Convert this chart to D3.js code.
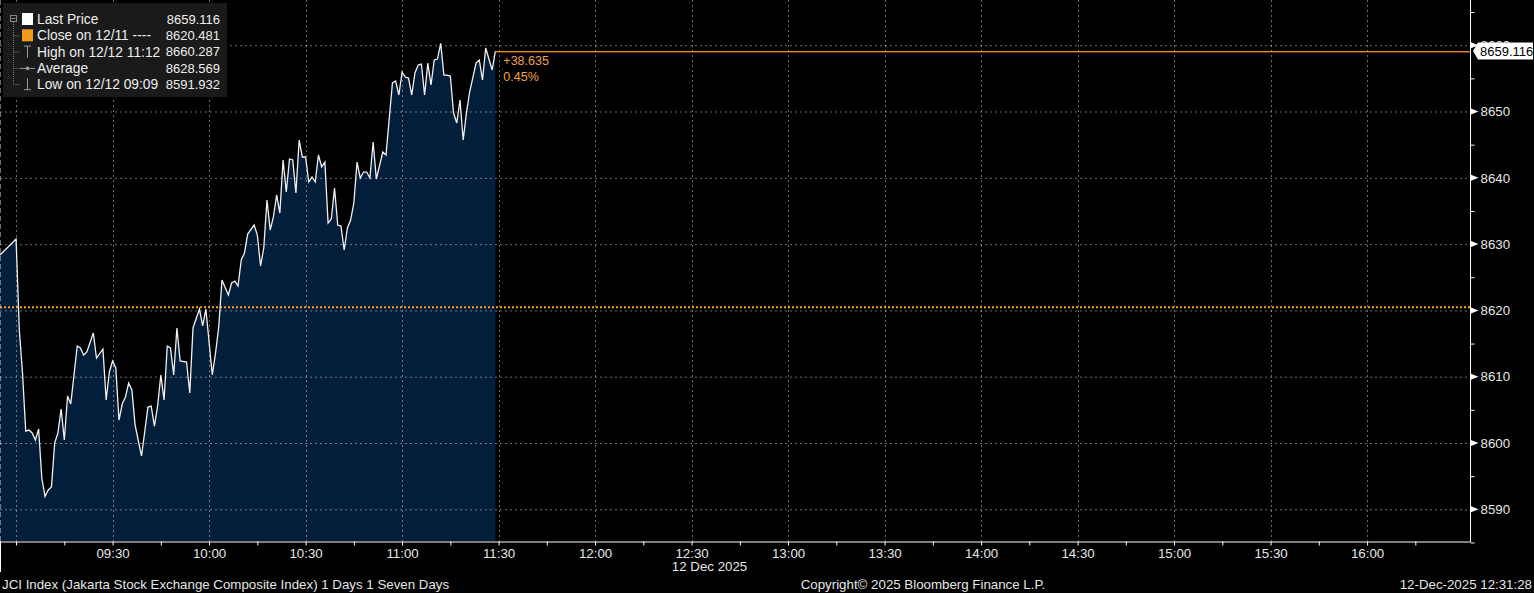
<!DOCTYPE html>
<html>
<head>
<meta charset="utf-8">
<script src="https://cdn.jsdelivr.net/npm/d3@7"></script>
<style>
  body { margin: 0; background: #000; }
  svg { display: block; font-family: "Liberation Sans", Arial, sans-serif; }
</style>
</head>
<body>
<svg id="chart" width="1534" height="593"></svg>
<script>
// JCI intraday, 1-minute points
const times = ["08:55","09:00","09:01","09:02","09:03","09:04","09:05","09:06","09:07","09:08","09:09","09:10","09:11","09:12","09:13","09:14","09:15","09:16","09:17","09:19","09:20","09:21","09:22","09:24","09:25","09:27","09:28","09:29","09:30","09:31","09:32","09:33","09:34","09:35","09:36","09:37","09:39","09:41","09:42","09:43","09:44","09:45","09:46","09:47","09:48","09:49","09:50","09:51","09:53","09:54","09:55","09:57","09:58","09:59","10:01","10:02","10:03","10:04","10:06","10:07","10:08","10:09","10:10","10:11","10:12","10:14","10:15","10:16","10:17","10:18","10:19","10:20","10:21","10:22","10:23","10:24","10:25","10:26","10:27","10:28","10:29","10:30","10:31","10:32","10:33","10:34","10:35","10:36","10:37","10:38","10:39","10:40","10:41","10:42","10:43","10:44","10:45","10:46","10:47","10:48","10:49","10:50","10:51","10:52","10:54","10:55","10:57","10:58","10:59","11:00","11:01","11:02","11:03","11:04","11:05","11:06","11:07","11:08","11:09","11:10","11:11","11:12","11:13","11:14","11:15","11:16","11:17","11:18","11:19","11:20","11:21","11:23","11:24","11:25","11:26","11:28","11:29"];
const prices = [8628.36,8630.77,8617.04,8610.56,8601.81,8601.96,8601.51,8600.45,8602.11,8594.72,8591.93,8592.91,8593.36,8600.00,8601.51,8605.13,8600.45,8607.09,8605.88,8614.63,8614.33,8613.27,8613.73,8616.59,8612.82,8614.18,8606.49,8610.71,8612.37,8611.31,8603.47,8605.88,8606.94,8609.05,8607.99,8602.71,8598.04,8605.43,8605.58,8602.56,8605.58,8610.26,8606.49,8614.63,8614.33,8610.26,8617.35,8612.37,8612.22,8607.54,8617.35,8620.21,8617.65,8620.21,8610.26,8613.57,8617.50,8624.59,8622.32,8624.13,8624.43,8623.68,8627.60,8628.66,8631.52,8632.88,8631.37,8626.70,8629.41,8636.65,8632.13,8634.09,8637.41,8634.69,8642.68,8637.86,8642.84,8642.69,8637.71,8645.70,8643.14,8643.14,8639.37,8640.12,8639.37,8643.44,8641.63,8642.38,8633.18,8633.79,8638.46,8632.88,8632.73,8629.11,8632.43,8633.63,8636.20,8642.38,8639.97,8640.87,8640.87,8639.97,8645.40,8639.82,8643.89,8643.44,8654.30,8654.60,8652.49,8655.96,8655.20,8655.05,8652.49,8655.81,8657.01,8657.16,8652.49,8657.31,8654.00,8657.77,8657.92,8660.29,8655.50,8655.50,8655.35,8649.77,8648.27,8651.73,8645.70,8649.77,8652.94,8657.31,8657.77,8654.75,8659.58,8656.26,8659.12];

const yTicks = [8590, 8600, 8610, 8620, 8630, 8640, 8650, 8660];
const yMinorTicks = [8585, 8595, 8605, 8615, 8625, 8635, 8645, 8655, 8665];
const xTickLabels = ["09:30","10:00","10:30","11:00","11:30","12:00","12:30","13:00","13:30","14:00","14:30","15:00","15:30","16:00"];
const xGridTimes = ["09:00","09:30","10:00","10:30","11:00","11:30","12:00","12:30","13:00","13:30","14:00","14:30","15:00","15:30","16:00"];
const xDomain = ["08:55", "16:32"];
const yDomain = [8585.22, 8666.82];

const lastPrice = 8659.116;
const prevClose = 8620.481;
const changeText = ["+38.635", "0.45%"];
const legendLabels = ["Last Price", "Close on 12/11 ----", "High on 12/12 11:12", "Average", "Low on 12/12 09:09"];
const legendValues = ["8659.116", "8620.481", "8660.287", "8628.569", "8591.932"];
const dateLabel = "12 Dec 2025";
const footerLeft = "JCI Index (Jakarta Stock Exchange Composite Index) 1 Days 1 Seven Days";
const footerMid = "Copyright\u00a9 2025 Bloomberg Finance L.P.";
const footerRight = "12-Dec-2025 12:31:28";

const W = 1470, H = 541;
const parse = d3.timeParse("%H:%M");
const data = times.map((t, i) => ({ t: parse(t), v: prices[i] }));

const svg = d3.select('#chart');
svg.append('rect').attr('width', 1534).attr('height', 593).attr('fill', '#000');

const x = d3.scaleTime().domain(xDomain.map(parse)).range([0, W]);
const y = d3.scaleLinear().domain(yDomain).range([H, 0]);

let plot = svg.append('g');

// area under the price
plot.append('path')
  .datum(data)
  .attr('d', d3.area().x(d => x(d.t)).y0(H).y1(d => y(d.v)))
  .attr('fill', '#031e3b');

// grid
plot.selectAll('.hgrid').data(yTicks)
  .enter().append('line')
  .attr('x1', 0).attr('x2', W)
  .attr('y1', d => y(d) + 0.5).attr('y2', d => y(d) + 0.5)
  .attr('stroke', 'rgba(255,255,255,0.42)')
  .attr('stroke-dasharray', '2,3');

plot.selectAll('.vgrid').data(xGridTimes.map(parse))
  .enter().append('line')
  .attr('x1', d => Math.round(x(d)) + 0.5).attr('x2', d => Math.round(x(d)) + 0.5)
  .attr('y1', 0).attr('y2', H)
  .attr('stroke', 'rgba(255,255,255,0.42)')
  .attr('stroke-dasharray', '2,3');

plot.append('line')
  .attr('x1', 0.5).attr('x2', 0.5).attr('y1', 0).attr('y2', H)
  .attr('stroke', 'rgba(255,255,255,0.42)')
  .attr('stroke-dasharray', '5,3');

// previous close
plot.append('line')
  .attr('x1', 0).attr('x2', W)
  .attr('y1', y(prevClose)).attr('y2', y(prevClose))
  .attr('stroke', '#f2a22a')
  .attr('stroke-width', 2)
  .attr('stroke-dasharray', '2,2');

// price line
plot.append('path')
  .datum(data)
  .attr('d', d3.line().x(d => x(d.t)).y(d => y(d.v)))
  .attr('fill', 'none')
  .attr('stroke', '#f0f0f0')
  .attr('stroke-width', 1.3);

// last price marker line
let lastT = data[data.length - 1].t;
plot.append('rect')
  .attr('x', x(lastT)).attr('width', W - x(lastT))
  .attr('y', Math.round(y(lastPrice))).attr('height', 1.4)
  .attr('fill', '#e8862a');

plot.selectAll('.chg').data(changeText)
  .enter().append('text')
  .attr('x', x(lastT) + 8)
  .attr('y', (d, i) => y(lastPrice) + 14 + i * 16)
  .attr('fill', '#f0a040')
  .style('font-size', '12.5px')
  .text(d => d);

// bottom axis
let quarterTicks = d3.timeMinute.every(15).range(parse("09:00"), parse("16:16"));
let xAxis = d3.axisBottom(x)
  .tickValues(quarterTicks)
  .tickSize(4)
  .tickSizeOuter(0)
  .tickPadding(3)
  .tickFormat(d => {
    let s = d3.timeFormat("%H:%M")(d);
    return xTickLabels.includes(s) ? s : "";
  });

let gx = svg.append('g')
  .attr('transform', `translate(0,${H + 0.5})`)
  .call(xAxis);
gx.select('.domain').attr('stroke', '#fff');
gx.selectAll('.tick line').attr('stroke', '#fff');
gx.selectAll('text').attr('fill', '#e6e6e6').style('font-size', '13.3px');

svg.append('line')
  .attr('x1', 0.5).attr('x2', 0.5).attr('y1', H).attr('y2', 572)
  .attr('stroke', '#fff');

svg.append('text')
  .attr('x', x(parse("12:30")) + 18).attr('y', 571)
  .attr('text-anchor', 'middle')
  .attr('fill', '#e6e6e6')
  .style('font-size', '13.3px')
  .text(dateLabel);

// right axis
let yAxis = d3.axisRight(y)
  .tickValues(yTicks)
  .tickSize(0)
  .tickPadding(10)
  .tickFormat(d3.format('d'));

let gy = svg.append('g')
  .attr('transform', `translate(${W + 0.5},0)`)
  .call(yAxis);
gy.select('.domain').remove();
gy.selectAll('text').attr('fill', '#e6e6e6').style('font-size', '13.3px');

gy.selectAll('.arrow').data(yTicks)
  .enter().append('path')
  .attr('d', d => `M0.5,${y(d) - 3}L8,${y(d)}L0.5,${y(d) + 3}Z`)
  .attr('fill', '#fff');

let gyMinor = svg.append('g')
  .attr('transform', `translate(${W + 0.5},0)`)
  .call(d3.axisRight(y).tickValues(yMinorTicks).tickSize(4).tickFormat(''));
gyMinor.select('.domain').remove();
gyMinor.selectAll('.tick line').attr('stroke', '#fff');

svg.append('line')
  .attr('x1', W + 0.5).attr('x2', W + 0.5).attr('y1', 0).attr('y2', H + 1)
  .attr('stroke', '#fff');

// last price tag
let ly = y(lastPrice);
svg.append('path')
  .attr('d', `M${W + 3},${ly} L${W + 8},${ly - 8.5} L1533,${ly - 8.5} L1533,${ly + 8.5} L${W + 8},${ly + 8.5}Z`)
  .attr('fill', '#fff');
svg.append('text')
  .attr('x', W + 10).attr('y', ly).attr('dy', '0.35em')
  .attr('fill', '#000')
  .style('font-size', '13px')
  .text(d3.format('.3f')(lastPrice));

// legend
let legend = svg.append('g');
legend.append('rect')
  .attr('x', 3).attr('y', 3).attr('width', 224).attr('height', 94)
  .attr('fill', '#1a1a1a');

let rowY = i => 19 + i * 16.3;
legend.append('line')
  .attr('x1', 13.5).attr('x2', 13.5).attr('y1', 22).attr('y2', rowY(4))
  .attr('stroke', '#777').attr('stroke-dasharray', '1,1');
legend.append('rect')
  .attr('x', 10.5).attr('y', 15.5).attr('width', 6).attr('height', 6)
  .attr('fill', 'none').attr('stroke', '#888');
legend.append('line')
  .attr('x1', 11.5).attr('x2', 15.5).attr('y1', 18.5).attr('y2', 18.5).attr('stroke', '#888');
legend.selectAll('.branch').data([1, 2, 3, 4])
  .enter().append('line')
  .attr('x1', 13.5).attr('x2', 20).attr('y1', d => rowY(d) + 0.5).attr('y2', d => rowY(d) + 0.5)
  .attr('stroke', '#777').attr('stroke-dasharray', '1,1');

legend.append('rect').attr('x', 22).attr('y', rowY(0) - 6).attr('width', 11).attr('height', 12).attr('fill', '#fff');
legend.append('rect').attr('x', 22).attr('y', rowY(1) - 6).attr('width', 11).attr('height', 12).attr('fill', '#f39c1b');
legend.append('path')
  .attr('d', `M24,${rowY(2) - 5.5}H31M27.5,${rowY(2) - 5.5}V${rowY(2) + 6}`)
  .attr('stroke', '#999').attr('fill', 'none');
legend.append('path')
  .attr('d', `M20,${rowY(3) + 0.5}H35`)
  .attr('stroke', '#999');
legend.append('circle').attr('cx', 27.5).attr('cy', rowY(3) + 0.5).attr('r', 1.8).attr('fill', '#999');
legend.append('path')
  .attr('d', `M27.5,${rowY(4) - 6}V${rowY(4) + 5.5}M24,${rowY(4) + 5.5}H31`)
  .attr('stroke', '#999').attr('fill', 'none');

legend.selectAll('.lab').data(legendLabels)
  .enter().append('text')
  .attr('x', 37).attr('y', (d, i) => rowY(i)).attr('dy', '0.36em')
  .attr('fill', '#eee')
  .style('font-size', '13.8px')
  .text(d => d);
legend.selectAll('.val').data(legendValues)
  .enter().append('text')
  .attr('x', 220).attr('y', (d, i) => rowY(i)).attr('dy', '0.36em')
  .attr('text-anchor', 'end')
  .attr('fill', '#eee')
  .style('font-size', '13px')
  .text(d => d);

// footer
let foot = [
  { t: footerLeft, x: 2, a: 'start' },
  { t: footerMid, x: 923, a: 'middle' },
  { t: footerRight, x: 1532, a: 'end' }
];
svg.selectAll('.foot').data(foot)
  .enter().append('text')
  .attr('x', d => d.x).attr('y', 589)
  .attr('text-anchor', d => d.a)
  .attr('fill', '#e6e6e6')
  .style('font-size', '13.3px')
  .text(d => d.t);
</script>
</body>
</html>
